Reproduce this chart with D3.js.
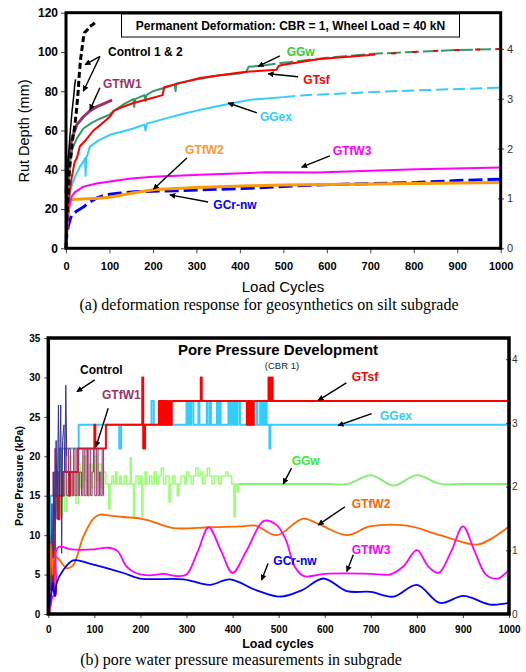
<!DOCTYPE html>
<html lang="en">
<head>
<meta charset="UTF-8">
<title>Rut depth and pore pressure</title>
<script src="https://d3js.org/d3.v7.min.js"></script>
<style>
  body { margin: 0; background: #fff; }
  svg { display: block; font-family: "Liberation Sans", Arial, sans-serif; }
</style>
</head>
<body>
<script>
// ---------- data: (a) rut depth, [load cycles, mm] ----------
const cyclesTicks = [0, 100, 200, 300, 400, 500, 600, 700, 800, 900, 1000];
const rutTicks = [0, 20, 40, 60, 80, 100, 120];
const inchTicks = [0, 1, 2, 3, 4];

const control1 = [[0,0],[2,25],[5,45],[10,60],[14,70],[18,78],[20,83],[22,86]];
const control2 = [[0,0],[3,20],[8,40],[15,55],[20,62],[24,70],[28,80],[31,90],[34,97],[37,102],[40,107],[43,110],[48,111],[55,113],[62,114],[67,115]];
const gtfw1 = [[0,28],[2,36],[5,44],[10,52],[15,57],[25,63],[40,67],[55,70],[70,72],[90,74],[106,75.5]];
const ggw = [[0,0],[2,15],[5,30],[10,45],[15,51],[25,56],[40,61],[60,64],[78,66],[100,68],[110,70],[130,73],[155,76],[157,72],[159,76],[180,78],[183,75],[185,78],[200,80],[230,82],[250,83.5],[252,80],[254,84],[300,86],[350,88],[400,89],[415,90],[420,92.5],[450,93],[500,94.5],[600,97],[700,99],[800,100],[900,101],[1000,101.5]];
const gtsf = [[0,0],[3,15],[8,28],[13,36],[20,44],[25,46],[32,52],[45,55],[63,60],[80,63],[101,67],[110,70],[130,72],[155,74],[190,76],[222,78],[226,82],[260,84],[308,86.7],[350,88],[400,89.5],[423,90],[484,91],[490,93],[500,93.5],[584,96.4],[700,98.5],[800,100],[900,101],[1000,101.5]];
const ggex = [[0,0],[2,10],[5,20],[10,30],[20,36],[32,41.6],[40,44],[44,46],[45,37],[47,46],[55,51.8],[75,55],[101,57.8],[130,59.5],[155,61],[180,63],[183,60],[186,63.5],[232,66.3],[270,68.5],[308,70.5],[340,72],[385,74],[423,75.6],[500,77],[550,78],[653,79],[750,80],[883,81],[1000,81.8]];
const gtfw3 = [[0,0],[3,10],[6,18],[10,24],[13,26.3],[20,28.5],[40,31.4],[70,33],[101,34],[150,35.5],[200,36.5],[308,37.4],[461,38.7],[577,38.6],[700,39.5],[807,40.3],[1000,41.1]];
const gtfw2 = [[0,0],[2,10],[4,18],[6,22],[8,24.6],[21,25],[50,25.3],[74,25.5],[100,26],[150,28],[205,30],[300,31],[423,31.8],[500,32.3],[700,32.8],[1000,33.5]];
const gcrnw = [[0,0],[1,4],[2,6.8],[5,11],[10,15],[13,17],[25,19],[40,21],[51,23],[70,25.5],[90,27.2],[120,28],[166,28.9],[250,29.3],[423,30.6],[577,32.3],[807,33.5],[900,34.5],[1000,35.2]];

// ---------- data: (b) pore pressure, [load cycles, kPa] ----------
const kpaTicks = [0, 5, 10, 15, 20, 25, 30, 35];
const rightTicksB = [0, 1, 2, 3, 4];

const controlP = [[0,0],[3,10],[5,3],[8,14],[10,4],[12,18],[15,8],[17,22],[19,12],[22,26.5],[24,15],[27,26.5],[28,18],[29,7.7],[31,22],[34,24],[36,18],[38,29],[40,20]];
const gtfw1P = [[8,15],[10,18],[12,15],[14,21],[16,15],[19,18],[22,15],[25,21],[28,15],[30,18],[33,15],[36,21],[40,15],[44,21],[48,18],[52,15],[55,21],[58,15],[62,21],[65,15],[68,18],[72,15],[75,21],[78,15],[82,21],[85,15],[88,21],[92,15],[95,18],[98,21],[101,15],[105,21],[108,15],[111,18],[114,15],[117,21],[120,15]];
const gtsfP = [[0,0],[3,9],[8,3],[12,15],[22,12],[24,15],[32,18],[45,15],[47,18],[65,21],[100,24],[102,21],[125,24],[204,30],[206,21],[210,24],[240,27],[242,24],[244,27],[246,24],[248,27],[250,24],[252,27],[254,24],[256,27],[258,24],[262,27],[265,24],[268,27],[331,30],[333,27],[431,24],[434,27],[437,24],[440,27],[443,24],[446,27],[478,30],[481,27],[484,30],[487,27],[1000,27]];
const ggexP = [[0,0],[2,9],[4,15],[14,18],[24,21],[66,24],[154,21],[158,24],[224,27],[229,24],[300,27],[302,24],[304,27],[308,24],[310,27],[315,24],[326,27],[328,24],[344,27],[346,24],[351,27],[353,24],[366,27],[368,24],[371,27],[374,24],[391,27],[395,24],[398,27],[402,24],[405,27],[408,24],[411,27],[416,24],[452,27],[454,24],[460,27],[462,24],[466,27],[469,24],[472,27],[474,24],[480,21],[482,24],[1000,24]];
const ggwNoisyP = [[14,13],[16,19],[18,13],[20,16],[23,20],[26,12.5],[30,18],[35,13],[40,17],[45,20],[50,15],[55,18],[60,14],[65,19],[70,16],[75,20],[80,17],[85,15],[90,19],[95,16],[100,20],[105,17],[110,19],[115,16],[120,18],[125,16.5],[131,13.3],[134,16.5],[138,17.5],[142,16.5],[146,18],[149,16.5],[155,17.5],[158,16.5],[165,17.5],[170,16.5],[178,19.8],[180,16.5],[185,12.3],[187,16.5],[190,17.5],[195,16.5],[200,17.5],[203,12.3],[205,16.5],[210,18],[213,16.5],[220,17.5],[225,16.5],[230,18],[235,16.5],[240,17.5],[245,18.5],[250,16.5],[255,17.5],[262,14.2],[265,16.5],[270,17.5],[275,16.5],[280,15],[283,16.5],[288,17.5],[296,16.5],[300,18],[305,17.5],[310,16.5],[315,17.5],[320,18.5],[325,17.5],[330,18],[335,16.5],[340,17.5],[345,18.5],[350,17.5],[355,16.5],[360,17.5],[370,16.5],[375,17.5],[385,18],[390,17.5],[398,16.5],[403,12.3],[406,16.5],[410,15.5],[413,16.5]];
const ggwSmoothP = [[413,16.5],[500,16.5],[600,16.5],[650,16.5],[700,17.6],[750,16.3],[800,17.6],[850,16.5],[900,16.5],[1000,16.5]];
const gtfw2P = [[0,0],[3,5],[6,9],[9,5],[12,7],[18,7.2],[25,6.8],[40,5.8],[54,6.2],[76,9.8],[98,12.1],[112,12.6],[130,12.5],[163,12.3],[200,12.1],[221,11.8],[271,10.9],[350,11],[416,11.1],[450,11.2],[496,10],[553,12.1],[590,11.3],[648,10],[698,11.1],[778,11.2],[850,10],[930,8.8],[960,9.5],[1000,11.1]];
const gtfw3P = [[0,0],[5,1],[10,2.3],[15,2.3],[17,8],[22,8.5],[30,8.5],[50,8.2],[100,8.2],[130,8.4],[150,8],[170,6],[190,5.2],[220,4.9],[250,5.1],[280,4.8],[300,5],[325,8],[348,11],[375,8],[400,5.2],[430,8],[468,11.8],[495,11.3],[515,9.5],[535,6],[555,4.8],[600,5.1],[700,5.1],[740,5],[770,6],[800,8.1],[825,6],[847,5.2],[875,8],[900,11.1],[925,8],[950,5],[975,4.5],[1000,5.6]];
const gcrnwP = [[0,0],[4,1.5],[7,2.8],[10,4],[13,2.5],[15,2.3],[18,3.9],[33,5.6],[54,6.8],[90,6.4],[163,5.2],[199,4.5],[293,4.4],[351,3.7],[394,4.4],[452,3],[503,2.2],[550,3],[597,4.5],[648,2.9],[700,2.8],[749,2.2],[800,3.7],[850,1.4],[901,2.3],[959,1.2],[1000,1.4]];

// label text, position of text (cycles, value), arrow from -> to
const labelsA = [
  { text: "Control 1 & 2", color: "#000", at: [96.6, 98.1], arrows: [[[78, 97.7], [44, 93.5]], [[78, 97.7], [40, 80]]] },
  { text: "GTfW1", color: "#993366", at: [85, 81.5], arrows: [[[78, 81.8], [55, 70.5]]] },
  { text: "GGw", color: "#33cc33", at: [507.7, 98], arrows: [[[492, 98], [442, 92.6]]] },
  { text: "GTsf", color: "#ff0000", at: [546, 83.8], arrows: [[[534, 87.4], [465, 88.9]]] },
  { text: "GGex", color: "#33ccff", at: [446, 64.9], arrows: [[[439, 69], [373, 74]]] },
  { text: "GTfW2", color: "#ff9933", at: [274, 48.1], arrows: [[[278, 46], [201, 30.1]]] },
  { text: "GTfW3", color: "#ff00ff", at: [613.5, 47.6], arrows: [[[607, 47.1], [542, 41.3]]] },
  { text: "GCr-nw", color: "#0000ff", at: [339, 20], arrows: [[[327, 23.6], [239, 27.2]]] }
];
const labelsB = [
  { text: "Control", color: "#000", at: [68.8, 30.4], arrows: [[[101, 29.7], [62, 28.2]]] },
  { text: "GTfW1", color: "#993366", at: [116.6, 27.3], arrows: [[[130, 26.1], [103.5, 21.2]]] },
  { text: "GTsf", color: "#ff0000", at: [658.6, 29.5], arrows: [[[647, 29.3], [586, 27.1]]] },
  { text: "GGex", color: "#33ccff", at: [720, 24.6], arrows: [[[702, 25.4], [629, 23.9]]] },
  { text: "GGw", color: "#33ee33", at: [528.3, 18.9], arrows: [[[528, 18.5], [510, 16.5]]] },
  { text: "GTfW2", color: "#ff6600", at: [658.6, 13.4], arrows: [[[644, 13.6], [586, 11.3]]] },
  { text: "GTfW3", color: "#ff00ff", at: [658.6, 7.6], arrows: [[[662, 7.5], [648, 5.4]]] },
  { text: "GCr-nw", color: "#0000ff", at: [488.4, 6.2], arrows: [[[477, 6.4], [463, 4.3]]] }
];

const svg = d3.select("body").append("svg").attr("width", 526).attr("height", 672);

svg.append("defs").append("marker")
  .attr("id", "arrow").attr("viewBox", "0 0 10 10")
  .attr("refX", 9).attr("refY", 5)
  .attr("markerWidth", 6).attr("markerHeight", 6)
  .attr("markerUnits", "userSpaceOnUse")
  .attr("orient", "auto")
  .append("path").attr("d", "M0,0L10,5L0,10Z").attr("fill", "#000");

// draw one series; the part from dashFrom on is dashed
function drawSeries(g, x, y, data, o) {
  const line = d3.line().x(d => x(d[0])).y(d => y(d[1])).curve(o.curve || d3.curveLinear);
  let parts = [[data, o.dash || null]];
  if (o.dashFrom != null) {
    const i = data.findIndex(d => d[0] >= o.dashFrom);
    parts = [[data.slice(0, i + 1), null], [data.slice(i), o.dash]];
  }
  parts.forEach(([pts, dash]) => {
    g.append("path").attr("d", line(pts))
      .attr("fill", "none").attr("stroke", o.color)
      .attr("stroke-width", o.width).attr("stroke-dasharray", dash)
      .attr("stroke-linejoin", "round");
  });
}

function drawLabels(g, x, y, labels, size) {
  labels.forEach(l => {
    g.append("text").attr("x", x(l.at[0])).attr("y", y(l.at[1]))
      .attr("fill", l.color).attr("font-weight", "bold").attr("font-size", size)
      .text(l.text);
    l.arrows.forEach(a => {
      g.append("line")
        .attr("x1", x(a[0][0])).attr("y1", y(a[0][1]))
        .attr("x2", x(a[1][0])).attr("y2", y(a[1][1]))
        .attr("stroke", "#000").attr("stroke-width", 1.4)
        .attr("marker-end", "url(#arrow)");
    });
  });
}

function styleAxis(sel, size, weight, color) {
  sel.select(".domain").remove();
  sel.selectAll("text").attr("font-size", size).attr("font-weight", weight)
    .attr("fill", color).attr("font-family", "Liberation Sans, Arial, sans-serif");
  sel.selectAll("line").attr("stroke", "#444");
}

const fmt = d3.format("d");

// ================= panel (a) =================
const xA = d3.scaleLinear().domain([0, 1000]).range([66, 500.7]);
const yA = d3.scaleLinear().domain([0, 120]).range([248.3, 12.7]);
const yAr = d3.scaleLinear().domain([0, 120 / 25.4]).range([248.3, 12.7]);
const gA = svg.append("g");

gA.append("g").attr("transform", "translate(0,248.3)")
  .call(d3.axisBottom(xA).tickValues(cyclesTicks).tickFormat(fmt).tickSize(5).tickPadding(9))
  .call(s => styleAxis(s, 11, "bold", "#000"));
gA.append("g").attr("transform", "translate(66,0)")
  .call(d3.axisLeft(yA).tickValues(rutTicks).tickFormat(fmt).tickSize(5).tickPadding(3))
  .call(s => styleAxis(s, 12, "bold", "#000"));
gA.append("g").attr("transform", "translate(498,0)")
  .call(d3.axisRight(yAr).tickValues(inchTicks).tickFormat(fmt).tickSize(6).tickPadding(3))
  .call(s => styleAxis(s, 11, "normal", "#333"));

drawSeries(gA, xA, yA, gcrnw, { color: "#0000ff", width: 3, dash: "14,5" });
drawSeries(gA, xA, yA, gtfw2, { color: "#ff9900", width: 3 });
drawSeries(gA, xA, yA, gtfw3, { color: "#ff00ff", width: 2 });
drawSeries(gA, xA, yA, ggex, { color: "#33ccff", width: 2, dashFrom: 470, dash: "12,5" });
drawSeries(gA, xA, yA, ggw, { color: "#339966", width: 2, dashFrom: 440, dash: "14,4" });
drawSeries(gA, xA, yA, gtsf, { color: "#ff0000", width: 2, dashFrom: 600, dash: "5,16" });
drawSeries(gA, xA, yA, gtfw1, { color: "#993366", width: 3 });
drawSeries(gA, xA, yA, control1, { color: "#000", width: 1.5 });
drawSeries(gA, xA, yA, control2, { color: "#000", width: 3, dash: "6,3" });

gA.append("rect").attr("x", 66).attr("y", 12.7).attr("width", 434.7).attr("height", 235.6)
  .attr("fill", "none").attr("stroke", "#000").attr("stroke-width", 3);

gA.append("rect").attr("x", 121.5).attr("y", 14).attr("width", 338).attr("height", 23)
  .attr("fill", "#fff").attr("stroke", "#000").attr("stroke-width", 1);
gA.append("text").attr("x", 290.5).attr("y", 30).attr("text-anchor", "middle")
  .attr("font-size", 12).attr("font-weight", "bold")
  .text("Permanent Deformation: CBR = 1, Wheel Load = 40 kN");

drawLabels(gA, xA, yA, labelsA, 12);

gA.append("text").attr("transform", "translate(29,131) rotate(-90)").attr("text-anchor", "middle")
  .attr("font-size", 14.5).text("Rut Depth (mm)");
gA.append("text").attr("x", 283).attr("y", 292).attr("text-anchor", "middle")
  .attr("font-size", 15).text("Load Cycles");
gA.append("text").attr("x", 269).attr("y", 310).attr("text-anchor", "middle")
  .attr("font-family", "Liberation Serif, Times New Roman, serif").attr("font-size", 16)
  .text("(a) deformation response for geosynthetics on silt subgrade");

// ================= panel (b) =================
const xB = d3.scaleLinear().domain([0, 1000]).range([48.3, 509]);
const yB = d3.scaleLinear().domain([0, 35]).range([614, 338]);
const yBr = d3.scaleLinear().domain([0, 4.333]).range([614, 338]);
const gB = svg.append("g");

gB.append("g").attr("transform", "translate(0,614)")
  .call(d3.axisBottom(xB).tickValues(cyclesTicks).tickFormat(fmt).tickSize(4).tickPadding(8))
  .call(s => styleAxis(s, 10, "bold", "#000"));
gB.append("g").attr("transform", "translate(48.3,0)")
  .call(d3.axisLeft(yB).tickValues(kpaTicks).tickFormat(fmt).tickSize(4).tickPadding(4))
  .call(s => styleAxis(s, 10, "bold", "#000"));
gB.append("g").attr("transform", "translate(506,0)")
  .call(d3.axisRight(yBr).tickValues(rightTicksB).tickFormat(fmt).tickSize(5).tickPadding(1))
  .call(s => styleAxis(s, 10, "normal", "#333"));

drawSeries(gB, xB, yB, ggwNoisyP, { color: "#99ff77", width: 1.5, curve: d3.curveStepAfter });
drawSeries(gB, xB, yB, ggwSmoothP, { color: "#88ee77", width: 2, curve: d3.curveCatmullRom });
drawSeries(gB, xB, yB, ggexP, { color: "#33ccff", width: 2, curve: d3.curveStepAfter });
drawSeries(gB, xB, yB, gtsfP, { color: "#ff0000", width: 2, curve: d3.curveStepAfter });
drawSeries(gB, xB, yB, gtfw1P, { color: "#993366", width: 1, curve: d3.curveStepAfter });
drawSeries(gB, xB, yB, controlP, { color: "#333399", width: 1 });
drawSeries(gB, xB, yB, gtfw2P, { color: "#ff6600", width: 1.8, curve: d3.curveCatmullRom });
drawSeries(gB, xB, yB, gtfw3P, { color: "#ff00ff", width: 1.8, curve: d3.curveCatmullRom });
drawSeries(gB, xB, yB, gcrnwP, { color: "#0000ff", width: 1.8, curve: d3.curveCatmullRom });

gB.append("rect").attr("x", 48.3).attr("y", 338).attr("width", 460.7).attr("height", 276)
  .attr("fill", "none").attr("stroke", "#000").attr("stroke-width", 3.5);

gB.append("text").attr("x", 278).attr("y", 355).attr("text-anchor", "middle")
  .attr("font-size", 15).attr("font-weight", "bold").text("Pore Pressure Development");
gB.append("text").attr("x", 282).attr("y", 369).attr("text-anchor", "middle")
  .attr("font-size", 9.5).attr("fill", "#222").text("(CBR 1)");

drawLabels(gB, xB, yB, labelsB, 12);

gB.append("text").attr("transform", "translate(23,476) rotate(-90)").attr("text-anchor", "middle")
  .attr("font-size", 10.5).attr("font-weight", "bold").text("Pore Pressure (kPa)");
gB.append("text").attr("x", 278).attr("y", 648).attr("text-anchor", "middle")
  .attr("font-size", 12.5).attr("font-weight", "bold").text("Load cycles");
gB.append("text").attr("x", 241).attr("y", 665).attr("text-anchor", "middle")
  .attr("font-family", "Liberation Serif, Times New Roman, serif").attr("font-size", 16)
  .text("(b) pore water pressure measurements in subgrade");
</script>
</body>
</html>
